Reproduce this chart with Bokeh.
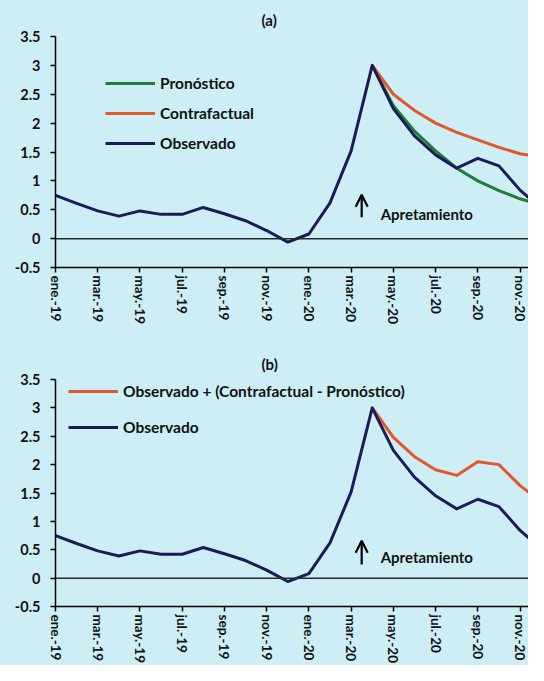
from bokeh.plotting import figure
from bokeh.layouts import column
from bokeh.models import (Range1d, FixedTicker, CustomJSTickFormatter, Span,
                          Legend, LegendItem, Label, Arrow, OpenHead)
from bokeh.embed import file_html
from bokeh.resources import INLINE

# ---------------- data ----------------
months = ["ene.-19", "feb.-19", "mar.-19", "abr.-19", "may.-19", "jun.-19",
          "jul.-19", "ago.-19", "sep.-19", "oct.-19", "nov.-19", "dic.-19",
          "ene.-20", "feb.-20", "mar.-20", "abr.-20", "may.-20", "jun.-20",
          "jul.-20", "ago.-20", "sep.-20", "oct.-20", "nov.-20", "dic.-20"]
month_idx = list(range(len(months)))
tick_idx = list(range(0, 24, 2))

observado = [0.75, 0.61, 0.48, 0.39, 0.48, 0.42, 0.42, 0.54, 0.43, 0.31,
             0.14, -0.06, 0.08, 0.62, 1.52, 3.00, 2.25, 1.78, 1.45, 1.22,
             1.39, 1.26, 0.84, 0.52]

proj_idx = list(range(15, 24))          # abr.-20 ... dic.-20
pronostico = [3.00, 2.30, 1.86, 1.52, 1.22, 1.00, 0.83, 0.69, 0.58]
contrafactual = [3.00, 2.50, 2.22, 2.00, 1.84, 1.71, 1.58, 1.47, 1.41]
obs_ajustado = [3.00, 2.48, 2.14, 1.91, 1.81, 2.05, 2.00, 1.63, 1.35]

y_ticks = [-0.5, 0, 0.5, 1, 1.5, 2, 2.5, 3, 3.5]

# ---------------- style ----------------
BG = "#cdeef4"
NAVY = "#1c1b55"
ORANGE = "#e2572b"
GREEN = "#1f7d3c"
FONT = "Lato"
LW = 3

def make_panel(title, title_standoff, height, top, bottom, legend_specs,
               legend_loc, legend_spacing, arrow_y, text_y):
    p = figure(width=528, height=height, output_backend="svg",
               toolbar_location=None, title=title,
               x_range=Range1d(0, 22.4), y_range=Range1d(-0.5, 3.5),
               min_border_left=55, min_border_right=0,
               min_border_top=top, min_border_bottom=bottom)
    p.background_fill_color = BG
    p.border_fill_color = BG
    p.outline_line_color = None
    p.xgrid.visible = False
    p.ygrid.visible = False

    p.title.align = "left"
    p.title.offset = 206
    p.title.standoff = title_standoff
    p.title.text_font = FONT
    p.title.text_font_style = "bold"
    p.title.text_font_size = "15px"
    p.title.text_color = "#111111"

    # axes
    p.yaxis.ticker = FixedTicker(ticks=y_ticks)
    p.yaxis.formatter = CustomJSTickFormatter(code="return String(tick);")
    p.xaxis.ticker = FixedTicker(ticks=tick_idx)
    p.xaxis.major_label_overrides = {i: months[i] for i in tick_idx}
    p.xaxis.major_label_orientation = "vertical"
    for ax in (p.xaxis, p.yaxis):
        ax.axis_line_color = "black"
        ax.axis_line_width = 1.5
        ax.major_tick_line_color = "black"
        ax.major_tick_line_width = 1.5
        ax.major_tick_out = 5
        ax.major_tick_in = 0
        ax.minor_tick_line_color = None
        ax.major_label_text_font = FONT
        ax.major_label_text_font_style = "bold"
        ax.major_label_text_color = "#111111"
    p.yaxis.major_label_text_font_size = "14.5px"
    p.yaxis.major_label_standoff = 10
    p.xaxis.major_label_text_font_size = "13.5px"
    p.xaxis.major_label_standoff = 3

    p.add_layout(Span(location=0, dimension="width", line_color="#2a2a2a",
                      line_width=1.5))

    renderers = {}
    for key, xs, ys, color in legend_specs:
        renderers[key] = p.line(xs, ys, line_color=color, line_width=LW,
                                line_join="round")

    legend = Legend(items=[LegendItem(label=k, renderers=[r])
                           for k, r in renderers.items()],
                    location=legend_loc, orientation="vertical",
                    background_fill_alpha=0, border_line_alpha=0,
                    glyph_width=50, glyph_height=20, label_standoff=5,
                    spacing=legend_spacing, padding=0, margin=0,
                    label_text_font=FONT, label_text_font_style="bold",
                    label_text_font_size="15.5px", label_text_color="#111111")
    p.add_layout(legend, "center")

    # annotation
    p.add_layout(Arrow(end=OpenHead(size=12, line_width=2.2, line_color="black"),
                       x_start=14.5, y_start=arrow_y[0],
                       x_end=14.5, y_end=arrow_y[1],
                       line_width=2.2, line_color="black"))
    p.add_layout(Label(x=15.4, y=text_y, text="Apretamiento",
                       text_font=FONT, text_font_style="bold",
                       text_font_size="15px", text_baseline="middle",
                       text_color="#111111"))
    return p


p1 = make_panel("(a)", 15, 332, 36, 65,
                [("Pronóstico", proj_idx, pronostico, GREEN),
                 ("Contrafactual", proj_idx, contrafactual, ORANGE),
                 ("Observado", month_idx, observado, NAVY)],
                (50, 114), 10, (0.37, 0.76), 0.43)

p2 = make_panel("(b)", 14, 333, 47, 55,
                [("Observado + (Contrafactual - Pronóstico)", proj_idx, obs_ajustado, ORANGE),
                 ("Observado", month_idx, observado, NAVY)],
                (13, 169), 16, (0.24, 0.66), 0.38)

layout = column(p1, p2, spacing=0)
layout.styles = {"background-color": BG}

open("out.html", "w").write(file_html(layout, INLINE))
